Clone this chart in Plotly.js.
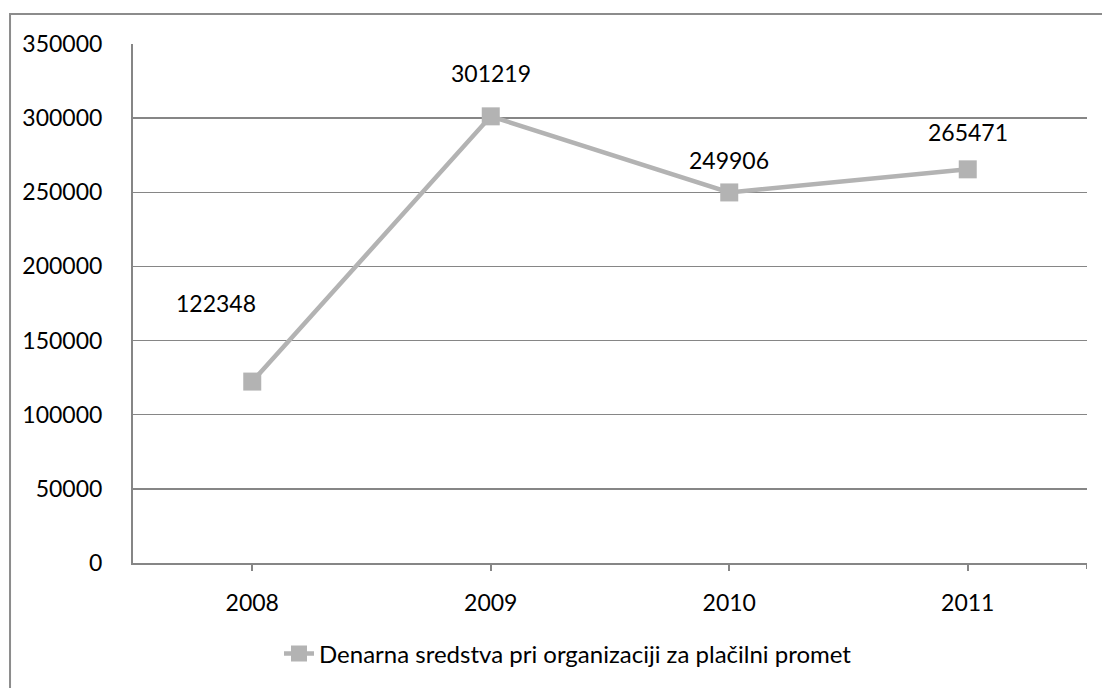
<!DOCTYPE html>
<html>
<head>
<meta charset="utf-8">
<script src="https://cdn.plot.ly/plotly-3.0.1.min.js"></script>
<style>html,body{margin:0;padding:0;background:#fff;}#chart{width:1102px;height:688px;}</style>
</head>
<body>
<div id="chart"></div>
<script>
const categories = ["2008", "2009", "2010", "2011"];
const values = [122348, 301219, 249906, 265471];
const seriesName = "Denarna sredstva pri organizaciji za plačilni promet";
const yTicks = [0, 50000, 100000, 150000, 200000, 250000, 300000, 350000];

const FONT = "Lato, 'Open Sans', sans-serif";
const FS = 23;
const labelShift = [{x: -36, y: 79}, {x: 0, y: 43}, {x: 0, y: 32}, {x: 0, y: 37}];

const trace = {
  x: categories,
  y: values,
  type: "scatter",
  mode: "lines+markers",
  name: seriesName,
  line: {color: "#b3b3b3", width: 4.5},
  marker: {symbol: "square", size: 18, color: "#b3b3b3"},
  hoverinfo: "x+y"
};

const annotations = categories.map((c, i) => ({
  x: i, y: values[i], xref: "x", yref: "y",
  text: String(values[i]), showarrow: false,
  xshift: labelShift[i].x, yshift: labelShift[i].y,
  font: {family: FONT, size: FS, color: "#000"}
}));

const layout = {
  width: 1102, height: 688,
  margin: {l: 133, r: 15, t: 44, b: 125},
  paper_bgcolor: "#fff", plot_bgcolor: "#fff",
  showlegend: true,
  legend: {orientation: "h", x: 0.5 - 42 / 954, xanchor: "center", y: -0.175, yanchor: "middle",
           font: {family: FONT, size: 24, color: "#000"}},
  xaxis: {
    type: "category", range: [-0.5, 3.5],
    showgrid: false, showline: true, linecolor: "#868686", linewidth: 2,
    ticks: "outside", ticklen: 6, tickwidth: 2, tickcolor: "#868686",
    ticklabelstandoff: 12,
    tickfont: {family: FONT, size: FS, color: "#000"},
    zeroline: false, fixedrange: true
  },
  yaxis: {
    range: [0, 350000], tickvals: yTicks, ticktext: yTicks.map(String),
    showgrid: true, gridcolor: "#868686", gridwidth: 1.5,
    showline: true, linecolor: "#868686", linewidth: 2,
    ticks: "", ticklabelstandoff: 24,
    tickfont: {family: FONT, size: FS, color: "#000"},
    zeroline: false, fixedrange: true
  },
  annotations: annotations,
  shapes: [
    {type: "line", xref: "x", yref: "paper", x0: 3.5, x1: 3.5, ysizemode: "pixel", yanchor: 0, y0: 0, y1: -6,
     line: {color: "#868686", width: 2}},
    {type: "rect", xref: "paper", yref: "paper", x0: -0.1289, x1: 1.1, y0: -0.4, y1: 1.0578,
     line: {color: "#8c8c8c", width: 2}, fillcolor: "rgba(0,0,0,0)", layer: "below"}
  ]
};

Plotly.newPlot("chart", [trace], layout, {displayModeBar: false, staticPlot: true});
</script>
</body>
</html>
